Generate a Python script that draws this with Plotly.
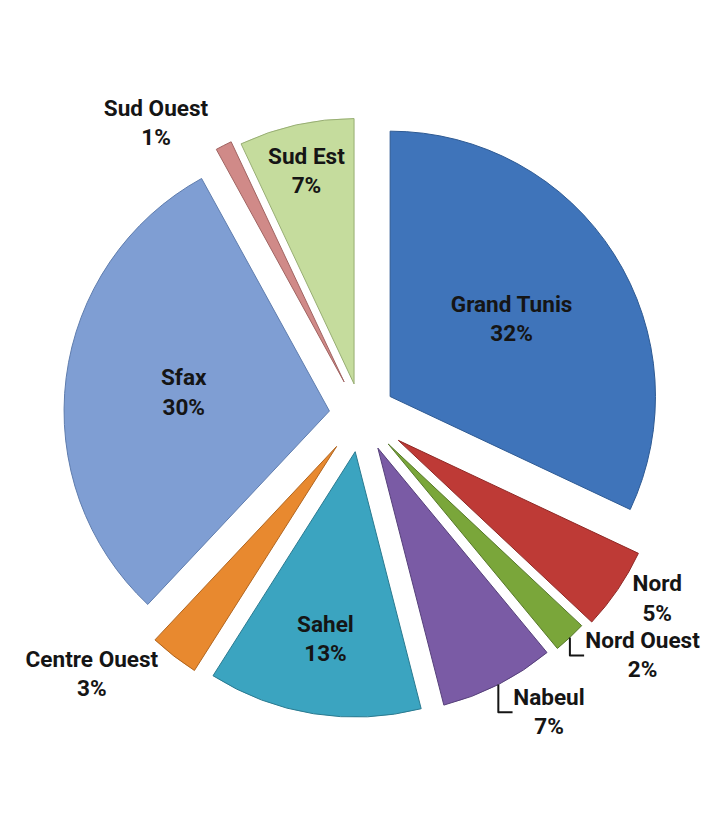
import plotly.graph_objects as go

# Regional shares (percent), clockwise from 12 o'clock
regions = ["Grand Tunis", "Nord", "Nord Ouest", "Nabeul", "Sahel",
           "Centre Ouest", "Sfax", "Sud Ouest", "Sud Est"]
shares = [32, 5, 2, 7, 13, 3, 30, 1, 7]

colors = ["#3F74BA", "#BE3A36", "#7AA63A", "#7A5BA5", "#3BA4C0",
          "#E8892F", "#7F9ED3", "#D08A88", "#C5DC9D"]
edges = ["#2E5A93", "#8E2825", "#56782A", "#56407A", "#2A7A90",
         "#B0651F", "#5F7DAE", "#A06462", "#98AE74"]
text_pos = ["inside", "outside", "outside", "outside", "inside",
            "outside", "inside", "outside", "inside"]
pulls = [0.13, 0.17, 0.15, 0.14, 0.14, 0.15, 0.12, 0.14, 0.12]

fig = go.Figure(go.Pie(
    labels=regions,
    values=shares,
    sort=False,
    direction="clockwise",
    rotation=0,
    pull=pulls,
    marker=dict(colors=colors, line=dict(color=edges, width=1)),
    textposition=text_pos,
    insidetextorientation="horizontal",
    texttemplate="%{label}<br>%{percent:.0%}",
    textfont=dict(family="Roboto, Liberation Sans",
                  size=23, color="#151515", weight="bold"),
    domain=dict(x=[0.07, 0.93], y=[0.04, 0.96]),
    automargin=False,
    showlegend=False,
    hoverinfo="label+percent",
))

fig.update_layout(
    width=722, height=830,
    margin=dict(l=0, r=0, t=0, b=0),
    paper_bgcolor="white",
    plot_bgcolor="white",
    uniformtext=dict(minsize=20, mode="show"),
)

fig.write_html("out.html")
